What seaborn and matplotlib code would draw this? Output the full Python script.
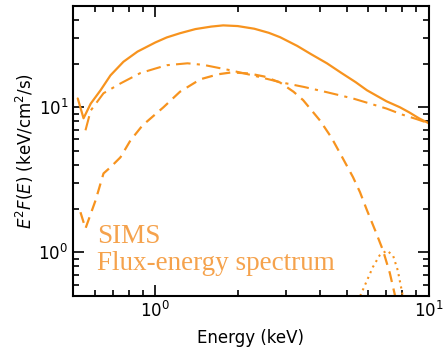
import numpy as np
import pandas as pd
import matplotlib
matplotlib.use("Agg")
import matplotlib.pyplot as plt
import seaborn as sns

# valores (energía en keV, E^2 F(E))
total_e = [0.52, 0.546, 0.58, 0.63, 0.685, 0.764, 0.86, 1.0, 1.1, 1.23, 1.4, 1.6, 1.77,
           2.0, 2.3, 2.6, 2.86, 3.3, 3.7, 4.24, 4.8, 5.4, 5.94, 6.5, 7.0, 7.84, 8.5, 9.2, 10.0]
total_f = [11.5, 8.4, 10.6, 13.1, 16.6, 20.6, 24.2, 28.0, 30.3, 32.4, 34.6, 36.0, 36.7,
           36.3, 34.8, 32.6, 30.4, 26.5, 23.3, 20.1, 17.2, 14.9, 13.1, 11.9, 11.0, 10.0, 9.2, 8.4, 7.76]

pl_e = [0.555, 0.58, 0.646, 0.745, 0.88, 1.0, 1.1, 1.31, 1.5, 1.88, 2.3, 2.86, 3.5,
        4.24, 5.28, 6.2, 7.0, 8.0, 9.0, 10.0]
pl_f = [6.94, 9.5, 12.5, 14.6, 17.2, 18.5, 19.5, 20.1, 19.6, 18.0, 16.5, 14.9, 13.8,
        12.7, 11.5, 10.5, 9.8, 8.9, 8.3, 7.76]

th_e = [0.532, 0.555, 0.604, 0.646, 0.685, 0.745, 0.81, 0.897, 1.07, 1.23, 1.46, 1.7, 1.9,
        2.2, 2.5, 2.86, 3.2, 3.47, 4.0, 4.4, 4.8, 5.28, 5.6, 5.94, 6.4, 6.8, 7.2, 7.52]
th_f = [1.89, 1.46, 2.28, 3.5, 3.86, 4.52, 5.9, 7.5, 10.0, 12.8, 15.6, 16.9, 17.4,
        17.1, 16.3, 14.8, 12.8, 11.2, 8.1, 6.2, 4.6, 3.3, 2.6, 1.95, 1.38, 1.03, 0.72, 0.505]

line_e = [5.61, 6.24, 6.6, 7.02, 7.4, 7.7, 8.03]
line_f = [0.5, 0.79, 0.95, 1.03, 0.95, 0.75, 0.5]

orange = "#F7931E"

sns.set_style("ticks")
plt.rcParams["font.family"] = ["DejaVu Sans"]

fig = plt.figure(figsize=(4.43, 3.47), dpi=100)
ax = fig.add_axes([0.165, 0.147, 0.803, 0.836])

sns.lineplot(x=total_e, y=total_f, ax=ax, color=orange, lw=1.6, sort=False)
sns.lineplot(x=pl_e, y=pl_f, ax=ax, color=orange, lw=1.5, sort=False)
ax.lines[-1].set_dashes([7, 3, 1.5, 3])
sns.lineplot(x=th_e, y=th_f, ax=ax, color=orange, lw=1.6, sort=False)
ax.lines[-1].set_dashes([5, 3])
sns.lineplot(x=line_e, y=line_f, ax=ax, color=orange, lw=1.5, sort=False)
ax.lines[-1].set_dashes([1, 2])

ax.set_xscale("log")
ax.set_yscale("log")
ax.set_xlim(0.5, 10)
ax.set_ylim(0.5, 50)

ax.set_xlabel("Energy (keV)", fontsize=12, labelpad=6, color="black")
ax.set_ylabel("$E^2F(E)$ (keV/cm$^2$/s)", fontsize=12, labelpad=2, color="black")

ax.tick_params(which="both", direction="in", top=True, right=True, labelsize=12,
               width=1.2, color="black", labelcolor="black")
ax.tick_params(which="major", length=8)
ax.tick_params(which="minor", length=4)
for s in ax.spines.values():
    s.set_linewidth(1.5)
    s.set_color("black")

ax.text(0.067, 0.183, "SIMS", transform=ax.transAxes, fontsize=19.5,
        family="Liberation Serif", color="#F5A24C", va="baseline")
ax.text(0.067, 0.09, "Flux-energy spectrum", transform=ax.transAxes, fontsize=19.5,
        family="Liberation Serif", color="#F5A24C", va="baseline")

fig.savefig("out.png", dpi=100)
